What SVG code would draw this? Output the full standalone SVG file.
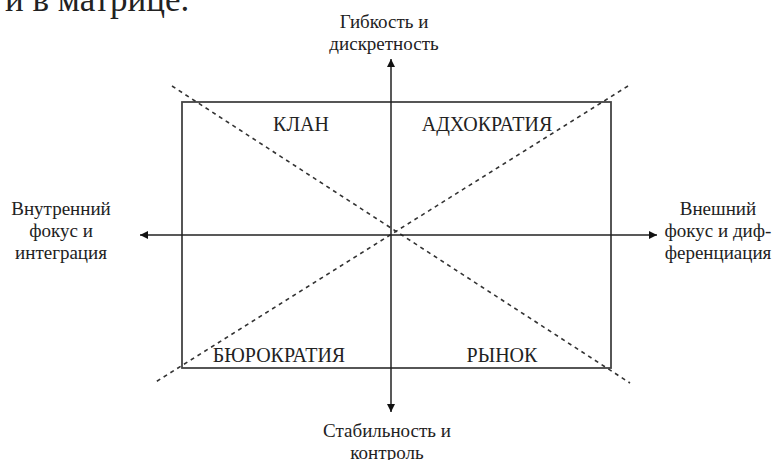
<svg xmlns="http://www.w3.org/2000/svg" width="776" height="460" viewBox="0 0 776 460">
<style>
text{font-family:"Liberation Serif","Times New Roman",serif;fill:#222}
.lbl{font-size:19px;text-anchor:middle}
.q{font-size:20px;text-anchor:middle}
.ax{stroke:#222;stroke-width:1.5;fill:none}
.dot{stroke:#333;stroke-width:1.6;stroke-dasharray:4 4;fill:none}
</style>
<defs>
<marker id="ah" viewBox="0 0 10 10" refX="10" refY="5" markerWidth="9" markerHeight="8" markerUnits="userSpaceOnUse" orient="auto">
<path d="M0,0 L10,5 L0,10 Z" fill="#111"/>
</marker>
</defs>
<rect width="776" height="460" fill="#fff"/>
<text x="5" y="11" style="font-size:35px">и в матрице.</text>
<g id="frame">
<rect x="182" y="102" width="429" height="266" fill="none" stroke="#444" stroke-width="1.8"/>
</g>
<g id="connectors">
<line class="dot" x1="172" y1="86" x2="630" y2="383"/>
<line class="dot" x1="628" y1="86" x2="154" y2="383"/>
<line class="ax" x1="391" y1="235" x2="391" y2="59" marker-end="url(#ah)"/>
<line class="ax" x1="391" y1="235" x2="391" y2="412" marker-end="url(#ah)"/>
<line class="ax" x1="391" y1="235" x2="140" y2="235" marker-end="url(#ah)"/>
<line class="ax" x1="391" y1="235" x2="657" y2="235" marker-end="url(#ah)"/>
</g>
<g id="top-label"><text class="lbl" x="384" y="28">Гибкость и</text><text class="lbl" x="384" y="50">дискретность</text></g>
<g id="left-label"><text class="lbl" x="61" y="215">Внутренний</text><text class="lbl" x="61" y="237">фокус и</text><text class="lbl" x="61" y="259">интеграция</text></g>
<g id="right-label"><text class="lbl" x="718" y="215">Внешний</text><text class="lbl" x="718" y="237">фокус и диф-</text><text class="lbl" x="718" y="259">ференциация</text></g>
<g id="bottom-label"><text class="lbl" x="387" y="437">Стабильность и</text><text class="lbl" x="387" y="459">контроль</text></g>
<g id="klan"><text class="q" x="301" y="131">КЛАН</text></g>
<g id="adhocracy"><text class="q" x="487" y="131">АДХОКРАТИЯ</text></g>
<g id="bureaucracy"><text class="q" x="279" y="362">БЮРОКРАТИЯ</text></g>
<g id="market"><text class="q" x="502" y="362">РЫНОК</text></g>
</svg>
